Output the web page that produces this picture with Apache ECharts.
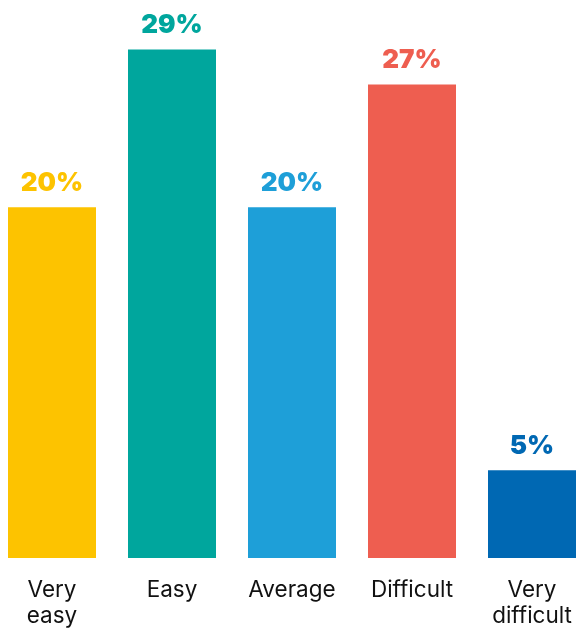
<!DOCTYPE html>
<html>
<head>
<meta charset="utf-8">
<script src="https://cdn.jsdelivr.net/npm/echarts@6/dist/echarts.min.js"></script>
<style>
  html, body { margin: 0; padding: 0; background: #ffffff; overflow: hidden; }
  #wrap { width: 576px; height: 629px; overflow: hidden; position: relative; }
  #chart { width: 600px; height: 629px; position: absolute; left: -8px; top: 0; }
</style>
</head>
<body>
<div id="wrap"><div id="chart"></div></div>
<script>
// Share of answers per difficulty rating (%)
const categories = ['Very\neasy', 'Easy', 'Average', 'Difficult', 'Very\ndifficult'];
const shares = [20, 29, 20, 27, 5];
const barColors = ['#FDC300', '#00A69D', '#1E9FD8', '#EE5E50', '#0068B3'];

const chart = echarts.init(document.getElementById('chart'), null, { renderer: 'canvas' });

chart.setOption({
  animation: false,
  grid: { left: 0, right: 0, top: 32, bottom: 69, containLabel: false },
  xAxis: {
    type: 'category',
    data: categories,
    axisLine: { show: false },
    axisTick: { show: false },
    axisLabel: {
      color: '#111111',
      fontFamily: 'Inter',
      fontSize: 22.5,
      lineHeight: 26,
      margin: 19,
      interval: 0
    }
  },
  yAxis: {
    type: 'value',
    min: 0,
    max: 30,
    show: false,
    splitLine: { show: false }
  },
  series: [{
    type: 'bar',
    barWidth: 88,
    data: shares.map((v, i) => ({
      value: v,
      itemStyle: { color: barColors[i] },
      label: { color: barColors[i] }
    })),
    label: {
      show: true,
      position: 'top',
      distance: 11,
      formatter: '{c}%',
      fontFamily: 'Inter',
      fontWeight: 900,
      fontSize: 26
    }
  }]
});
</script>
</body>
</html>
